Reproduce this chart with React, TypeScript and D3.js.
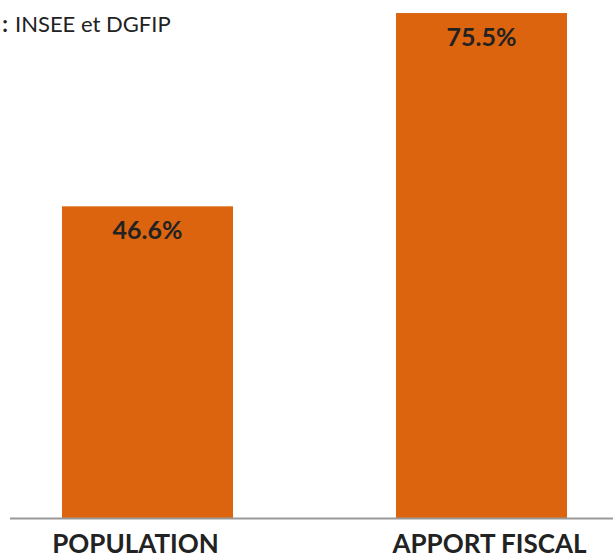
import React from "react";
import * as d3 from "d3";

const categories = ["POPULATION", "APPORT FISCAL"];
const values = [46.6, 75.5];
const valueLabels = ["46.6%", "75.5%"];
const sourceLabel = "Source :";
const sourceText = "INSEE et DGFIP";

const width = 613;
const height = 555;
const baseline = 518;

export default function App() {
  const x = d3
    .scaleBand()
    .domain(categories)
    .range([-19.5, 648.5])
    .paddingInner(0.488)
    .paddingOuter(0.244);

  const y = d3.scaleLinear().domain([0, 77.45]).range([baseline, 0]);

  const labelDx = [-12, 8];

  return (
    <svg
      width={width}
      height={height}
      style={{ position: "absolute", left: 0, top: 0, fontFamily: "Lato, sans-serif" }}
    >
      <text x={8} y={32} textAnchor="end" fontSize={22} fontWeight={700} fill="#222">
        {sourceLabel}
      </text>
      <text x={15} y={32} fontSize={22} fill="#222">
        {sourceText}
      </text>

      {categories.map((c, i) => (
        <g key={c}>
          <rect
            x={x(c)}
            y={y(values[i])}
            width={x.bandwidth()}
            height={baseline - y(values[i])}
            fill="#DD640E"
          />
          <text
            x={x(c)! + x.bandwidth() / 2}
            y={y(values[i]) + 33}
            textAnchor="middle"
            fontSize={25}
            fontWeight={700}
            fill="#222"
          >
            {valueLabels[i]}
          </text>
          <text
            x={x(c)! + x.bandwidth() / 2 + labelDx[i]}
            y={553}
            textAnchor="middle"
            fontSize={26}
            fontWeight={700}
            fill="#222"
          >
            {c}
          </text>
        </g>
      ))}

      <line x1={10} x2={width} y1={baseline + 0.5} y2={baseline + 0.5} stroke="#999" strokeWidth={2} />
    </svg>
  );
}
